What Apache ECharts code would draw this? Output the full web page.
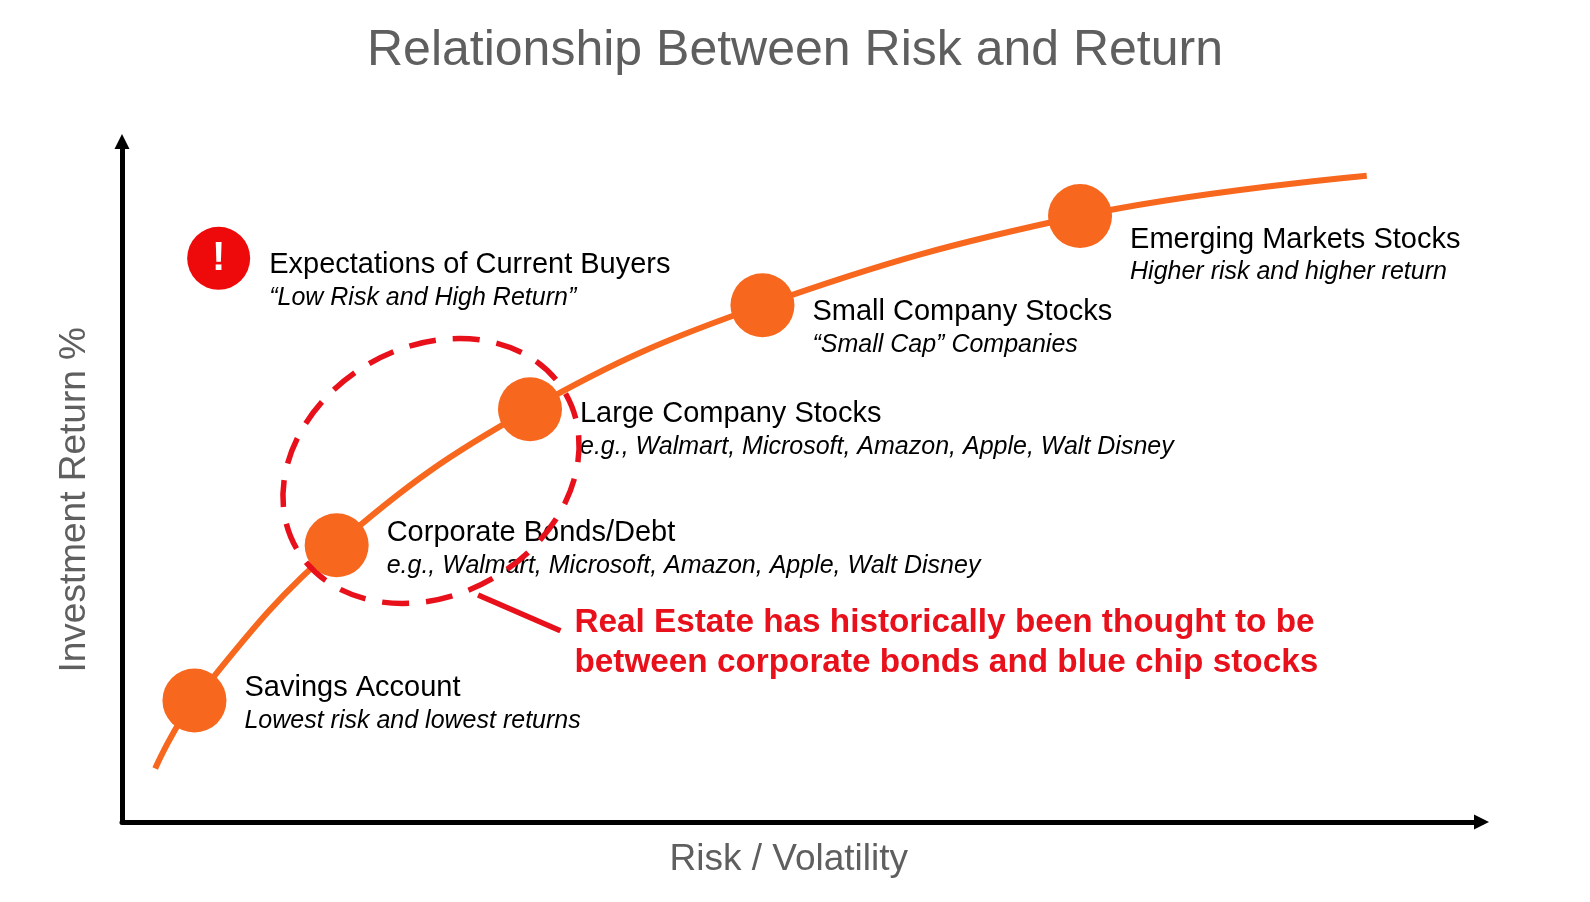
<!DOCTYPE html>
<html>
<head>
<meta charset="utf-8">
<script src="https://cdn.jsdelivr.net/npm/echarts@6/dist/echarts.min.js"></script>
<style>
html,body{margin:0;padding:0;background:#fff;}
#chart{width:1590px;height:902px;}
</style>
</head>
<body>
<div id="chart"></div>
<script>
// ---- data (conceptual units 0..100 on both axes) ----
const chartTitle = 'Relationship Between Risk and Return';
const xAxisName = 'Risk / Volatility';
const yAxisName = 'Investment Return %';

// points
const curveRisk   = [2.44, 5.33, 15.79, 30.01, 47.11, 70.47, 91.56];
const curveReturn = [7.85, 17.85, 40.66, 60.66, 75.94, 89.05, 94.98];

// asset classes on the curve
const assetNames = ['Savings Account', 'Corporate Bonds/Debt', 'Large Company Stocks', 'Small Company Stocks', 'Emerging Markets Stocks'];
const assetNotes = ['Lowest risk and lowest returns', 'e.g., Walmart, Microsoft, Amazon, Apple, Walt Disney', 'e.g., Walmart, Microsoft, Amazon, Apple, Walt Disney', '\u201CSmall Cap\u201D Companies', 'Higher risk and higher return'];
const assetRisk   = [5.33, 15.79, 30.01, 47.11, 70.47];
const assetReturn = [17.85, 40.66, 60.66, 75.94, 89.05];

// buyer expectation marker
const expectName = 'Expectations of Current Buyers';
const expectNote = '\u201CLow Risk and High Return\u201D';
const expectRisk = [7.11];
const expectReturn = [82.84];

// real estate zone (center, semi-major in risk units, semi-minor in return units)
const zoneRisk = [22.73];
const zoneReturn = [51.58];
const zoneMajorRisk = [11.42];
const zoneMinorReturn = [18.21];

// annotation arrow (tail -> tip)
const arrowTailRisk = [32.25];
const arrowTailReturn = [28.11];
const arrowTipRisk = [26.19];
const arrowTipReturn = [33.36];
const arrowMessage = 'Real Estate has historically been thought to be\nbetween corporate bonds and blue chip stocks';

// ---- styling ----
const FONT = '"Liberation Sans", Arial, Helvetica, sans-serif';
const ORANGE = '#F8671E';
const RED = '#E8101A';
const labelShiftY = [4, 4, 21, 23, 40];
const zoneTiltDeg = 30;

const chart = echarts.init(document.getElementById('chart'), null, {renderer: 'canvas'});

const richStyles = {
  t: {fontSize: 29, lineHeight: 33, color: '#000', fontFamily: FONT},
  s: {fontSize: 25, lineHeight: 33, color: '#000', fontStyle: 'italic', fontFamily: FONT}
};

const option = {
  backgroundColor: '#fff',
  animation: false,
  title: {
    text: chartTitle,
    left: 'center',
    top: 21,
    textStyle: {fontSize: 50, fontWeight: 'normal', color: '#5f5f5f', fontFamily: FONT}
  },
  grid: {left: 122, right: 108.5, top: 141.5, bottom: 80},
  xAxis: {
    type: 'value', min: 0, max: 100,
    name: xAxisName, nameLocation: 'middle', nameGap: 19,
    nameTextStyle: {fontSize: 37, color: '#5f5f5f', fontFamily: FONT, padding: [0, 26, 0, 0]},
    axisLine: {show: true, onZero: false, symbol: ['none', 'triangle'], symbolSize: [15, 15], lineStyle: {color: '#000', width: 5}},
    axisTick: {show: false}, axisLabel: {show: false}, splitLine: {show: false}
  },
  yAxis: {
    type: 'value', min: 0, max: 100,
    name: yAxisName, nameLocation: 'middle', nameGap: 29,
    nameTextStyle: {fontSize: 37, color: '#5f5f5f', fontFamily: FONT, padding: [0, 36, 0, 0]},
    axisLine: {show: true, onZero: false, symbol: ['none', 'triangle'], symbolSize: [15, 15], lineStyle: {color: '#000', width: 5}},
    axisTick: {show: false}, axisLabel: {show: false}, splitLine: {show: false}
  },
  series: [
    {
      name: 'curve', type: 'line', silent: true, z: 2,
      data: curveRisk.map((x, i) => [x, curveReturn[i]]),
      smooth: 0.4, showSymbol: false,
      lineStyle: {color: ORANGE, width: 6}
    },
    {
      name: 'assets', type: 'scatter', z: 3, silent: true,
      symbol: 'circle', symbolSize: 64,
      itemStyle: {color: ORANGE, opacity: 1},
      data: assetRisk.map((x, i) => ({
        value: [x, assetReturn[i]],
        name: assetNames[i],
        label: {offset: [0, labelShiftY[i]]}
      })),
      label: {
        show: true, position: 'right', distance: 18,
        formatter: p => '{t|' + p.name + '}\n{s|' + assetNotes[p.dataIndex] + '}',
        rich: richStyles
      }
    },
    {
      name: 'expectation', type: 'custom', z: 3, silent: true,
      data: expectRisk.map((x, i) => [x, expectReturn[i]]),
      renderItem: (params, api) => {
        const c = api.coord([api.value(0), api.value(1)]);
        return {
          type: 'group',
          children: [
            {type: 'circle', shape: {cx: c[0], cy: c[1], r: 31.5}, style: {fill: '#EE0A0A'}},
            {type: 'text', x: c[0], y: c[1] + 1,
             style: {text: '!', fill: '#fff', fontSize: 40, fontWeight: 'bold', fontFamily: FONT, align: 'center', verticalAlign: 'middle'}},
            {type: 'text', x: c[0] + 50.5, y: c[1] + 23,
             style: {text: '{t|' + expectName + '}\n{s|' + expectNote + '}', rich: richStyles, align: 'left', verticalAlign: 'middle'}}
          ]
        };
      }
    },
    {
      name: 'zone', type: 'custom', z: 10, silent: true,
      data: zoneRisk.map((x, i) => [x, zoneReturn[i], zoneMajorRisk[i], zoneMinorReturn[i]]),
      renderItem: (params, api) => {
        const c = api.coord([api.value(0), api.value(1)]);
        const s = api.size([api.value(2), api.value(3)]);
        return {
          type: 'group',
          x: c[0], y: c[1],
          rotation: zoneTiltDeg * Math.PI / 180,
          children: [{
            type: 'ellipse',
            shape: {cx: 0, cy: 0, rx: s[0], ry: s[1]},
            style: {fill: 'none', stroke: RED, lineWidth: 5.5, lineDash: [27, 17]}
          }]
        };
      }
    },
    {
      name: 'arrow', type: 'custom', z: 11, silent: true,
      data: arrowTailRisk.map((x, i) => [x, arrowTailReturn[i], arrowTipRisk[i], arrowTipReturn[i]]),
      renderItem: (params, api) => {
        const tail = api.coord([api.value(0), api.value(1)]);
        const tip = api.coord([api.value(2), api.value(3)]);
        return {
          type: 'group',
          children: [
            {type: 'line', shape: {x1: tip[0], y1: tip[1], x2: tail[0], y2: tail[1]},
             style: {stroke: RED, lineWidth: 5.5}},
            {type: 'text', x: tail[0] + 14, y: tail[1] + 12,
             style: {text: arrowMessage, fill: RED, fontSize: 33.3, fontWeight: 'bold', fontFamily: FONT,
                     lineHeight: 40.5, align: 'left', verticalAlign: 'middle'}}
          ]
        };
      }
    }
  ]
};
chart.setOption(option);
</script>
</body>
</html>
